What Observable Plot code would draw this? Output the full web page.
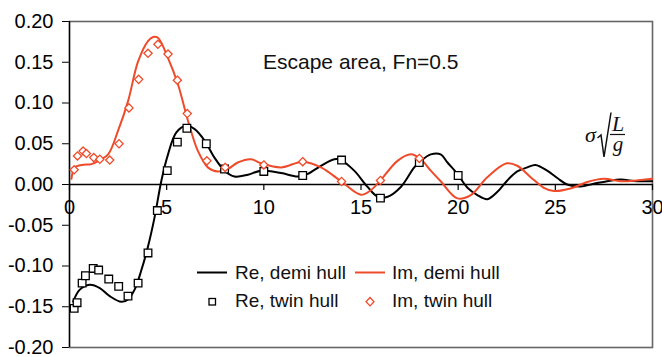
<!DOCTYPE html>
<html>
<head>
<meta charset="utf-8">
<script src="https://cdn.jsdelivr.net/npm/d3@7"></script>
<script src="https://cdn.jsdelivr.net/npm/@observablehq/plot@0.6"></script>
<style>
  html, body { margin: 0; padding: 0; background: white; }
  #wrap { position: relative; width: 662px; height: 357px; overflow: hidden; font-family: "Liberation Sans", Arial, sans-serif; }
  #wrap > svg.plot { position: absolute; left: 0; top: 0; }
  .ov { position: absolute; }
</style>
</head>
<body>
<div id="wrap"></div>
<script>
// ---- data ----
const xTicks = [0, 5, 10, 15, 20, 25, 30];
const yTicks = [-0.2, -0.15, -0.1, -0.05, 0, 0.05, 0.1, 0.15, 0.2];

const reDemiX = [0.19,0.53,1.04,1.56,2.07,2.67,3.01,3.35,3.7,4.04,4.38,4.73,5.07,5.5,6.01,6.44,6.95,7.46,7.98,8.49,9.18,9.86,10.89,11.75,12.26,12.94,13.63,13.97,14.65,15.34,15.86,16.37,17.05,17.74,18.08,18.59,19.1,19.45,19.96,20.48,20.99,21.5,22.02,22.53,23.04,23.56,23.98,24.58,25.1,25.61,26.3,26.98,27.67,28.35,29.2,29.98];
const reDemiY = [-0.1435,-0.129,-0.123,-0.127,-0.137,-0.144,-0.141,-0.129,-0.105,-0.076,-0.040,0.005,0.037,0.064,0.072,0.068,0.054,0.033,0.017,0.0098,0.012,0.017,0.014,0.0098,0.013,0.023,0.031,0.030,0.017,-0.003,-0.015,-0.015,-0.003,0.021,0.029,0.037,0.037,0.027,0.013,-0.004,-0.013,-0.018,-0.009,0.005,0.016,0.021,0.024,0.017,0.008,0.0,-0.0024,0.001,0.004,0.006,0.004,0.004];

const imDemiX = [0.1,0.27,0.62,1.13,1.56,1.99,2.5,3.01,3.53,4.04,4.3,4.55,5.07,5.58,6.1,6.61,7.12,7.64,8.15,8.66,9.35,9.86,10.89,12.0,12.94,13.97,15.0,15.5,16.0,16.88,17.57,18.08,18.59,19.1,19.96,20.65,21.5,22.5,23.04,23.73,24.41,24.93,25.78,26.64,27.5,28.35,29.2,29.98];
const imDemiY = [0.007,0.021,0.024,0.025,0.030,0.037,0.066,0.102,0.151,0.176,0.181,0.180,0.155,0.123,0.078,0.041,0.021,0.016,0.019,0.027,0.031,0.026,0.021,0.028,0.021,0.004,-0.0126,-0.007,0.005,0.029,0.037,0.031,0.017,0.004,-0.017,-0.013,0.009,0.026,0.023,0.009,-0.004,-0.008,-0.005,0.003,0.007,0.004,0.005,0.007];

const reTwinX = [0.24,0.39,0.65,0.82,1.22,1.5,2.02,2.53,3.01,3.53,4.04,4.52,5.03,5.55,6.04,7.04,7.98,10,12,14,16,18,20];
const reTwinY = [-0.152,-0.145,-0.121,-0.112,-0.103,-0.105,-0.116,-0.125,-0.137,-0.121,-0.084,-0.032,0.017,0.052,0.069,0.050,0.019,0.016,0.011,0.030,-0.0167,0.027,0.011];

const imTwinX = [0.24,0.41,0.7,0.87,1.25,1.56,2.07,2.55,3.06,3.56,4.04,4.55,5.07,5.55,6.06,7.07,8.01,10,12,14,16,18];
const imTwinY = [0.018,0.035,0.041,0.038,0.033,0.031,0.030,0.050,0.094,0.129,0.161,0.172,0.160,0.128,0.087,0.029,0.021,0.024,0.028,0.0037,0.005,0.032];

const seriesNames = ["Re, demi hull", "Im, demi hull", "Re, twin hull", "Im, twin hull"];
const titleText = "Escape area, Fn=0.5";

// ---- build ----
const RED = "#ee4b2b";
const zip = (xs, ys) => xs.map((x, i) => ({x, y: ys[i]}));
const reDemi = zip(reDemiX, reDemiY);
const imDemi = zip(imDemiX, imDemiY);
const reTwin = zip(reTwinX, reTwinY);
const imTwin = zip(imTwinX, imTwinY);

const tickLen = 0.4 * 6 / 326; // ~6px in data units

const chart = Plot.plot({
  width: 662,
  height: 357,
  marginLeft: 69,
  marginRight: 10,
  marginTop: 21,
  marginBottom: 10,
  style: {fontFamily: "'Liberation Sans', Arial, sans-serif", fontSize: "20px", background: "white", color: "black"},
  x: {domain: [0, 30], axis: null},
  y: {domain: [-0.2, 0.2], ticks: yTicks, tickSize: 7, tickPadding: 9, tickFormat: d => d.toFixed(2), label: null},
  marks: [
    Plot.frame({stroke: "#666", strokeWidth: 1.6}),
    Plot.ruleX([0], {stroke: "black", strokeWidth: 1.3}),
    Plot.ruleY([0], {stroke: "black", strokeWidth: 1.3}),
    Plot.ruleX(xTicks, {x: d => d, y1: 0, y2: -tickLen, stroke: "black", strokeWidth: 1.2}),
    Plot.text(xTicks, {x: d => d, y: 0, text: d => String(d), dy: 23, fontSize: 20, fill: "black"}),
    Plot.line(reDemi, {x: "x", y: "y", stroke: "black", strokeWidth: 2, curve: "catmull-rom"}),
    Plot.line(imDemi, {x: "x", y: "y", stroke: RED, strokeWidth: 2, curve: "catmull-rom"}),
    Plot.dot(reTwin, {x: "x", y: "y", symbol: "square", r: 4.3, stroke: "black", fill: "white", strokeWidth: 1.3}),
    Plot.dot(imTwin, {x: "x", y: "y", symbol: "diamond2", r: 3.7, stroke: RED, fill: "white", strokeWidth: 1.3})
  ]
});
chart.classList.add("plot");
const wrap = document.getElementById("wrap");
wrap.appendChild(chart);

// title annotation
const t = document.createElement("div");
t.className = "ov";
t.style.cssText = "left:263px;top:51px;font-size:21px;line-height:21px;white-space:nowrap;color:#111;";
t.textContent = titleText;
wrap.appendChild(t);

// x-axis label  sigma*sqrt(L/g)
const NS = "http://www.w3.org/2000/svg";
const lab = document.createElement("div");
lab.className = "ov";
lab.style.cssText = "left:575px;top:105px;width:60px;height:60px;";
lab.innerHTML = `<svg xmlns="${NS}" width="60" height="60" style="font-family:'Liberation Serif','Times New Roman',serif;font-style:italic;font-size:22px;">
  <text x="10" y="36.5" fill="#111">σ</text>
  <path d="M22.5 33 L26 30 L29 52 L36 7.5" fill="none" stroke="#111" stroke-width="1.5"/>
  <text x="43" y="25.5" text-anchor="middle" fill="#111">L</text>
  <line x1="35" y1="29.5" x2="50" y2="29.5" stroke="#111" stroke-width="1.2"/>
  <text x="43" y="45.5" text-anchor="middle" font-size="21" fill="#111">g</text>
</svg>`;
wrap.appendChild(lab);

// legend
const leg = document.createElement("div");
leg.className = "ov";
leg.style.cssText = "left:180px;top:255px;width:340px;height:60px;";
leg.innerHTML = `<svg xmlns="${NS}" width="340" height="60" style="font-family:'Liberation Sans',Arial,sans-serif;font-size:19px;">
  <line x1="17" y1="17.5" x2="47" y2="17.5" stroke="black" stroke-width="2"/>
  <text x="55" y="24" fill="#111">${seriesNames[0]}</text>
  <line x1="175" y1="17.5" x2="205" y2="17.5" stroke="${RED}" stroke-width="2"/>
  <text x="212" y="24" fill="#111">${seriesNames[1]}</text>
  <rect x="29" y="43.5" width="6.5" height="6.5" fill="white" stroke="black" stroke-width="1.3"/>
  <text x="55" y="51.5" fill="#111">${seriesNames[2]}</text>
  <path d="M190 42.5 L194 46.7 L190 50.9 L186 46.7 Z" fill="white" stroke="${RED}" stroke-width="1.3"/>
  <text x="212" y="51.5" fill="#111">${seriesNames[3]}</text>
</svg>`;
wrap.appendChild(leg);
</script>
</body>
</html>
